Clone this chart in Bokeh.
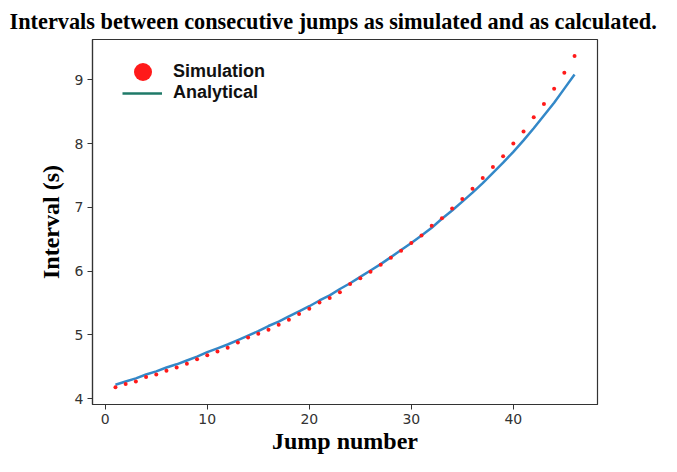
from bokeh.plotting import figure
from bokeh.models import Range1d, FixedTicker, Legend, LegendItem
from bokeh.embed import file_html
from bokeh.resources import INLINE

# ---- data ----
jump = [1, 2, 3, 4, 5, 6, 7, 8, 9, 10, 11, 12, 13, 14, 15, 16, 17, 18, 19, 20,
        21, 22, 23, 24, 25, 26, 27, 28, 29, 30, 31, 32, 33, 34, 35, 36, 37, 38,
        39, 40, 41, 42, 43, 44, 45, 46]
simulated = [4.18, 4.23, 4.27, 4.34, 4.38, 4.44, 4.49, 4.55, 4.62, 4.68, 4.74,
             4.80, 4.88, 4.96, 5.02, 5.08, 5.16, 5.24, 5.33, 5.41, 5.51, 5.58,
             5.67, 5.80, 5.89, 5.99, 6.10, 6.21, 6.32, 6.44, 6.56, 6.71, 6.83,
             6.98, 7.13, 7.29, 7.46, 7.63, 7.80, 8.00, 8.19, 8.41, 8.62, 8.86,
             9.11, 9.37]
analytical = [4.22, 4.27, 4.32, 4.38, 4.43, 4.49, 4.54, 4.60, 4.66, 4.73, 4.79,
              4.85, 4.92, 4.99, 5.06, 5.14, 5.21, 5.29, 5.37, 5.45, 5.54, 5.62,
              5.72, 5.81, 5.91, 6.01, 6.11, 6.22, 6.33, 6.44, 6.56, 6.68, 6.82,
              6.95, 7.09, 7.23, 7.38, 7.54, 7.70, 7.87, 8.05, 8.24, 8.44, 8.64,
              8.86, 9.08]
x_ticks = [0, 10, 20, 30, 40]
y_ticks = [4, 5, 6, 7, 8, 9]
title_text = "Intervals between consecutive jumps as simulated and as calculated."
x_label = "Jump number"
y_label = "Interval (s)"
sim_label = "Simulation"
ana_label = "Analytical"

p = figure(width=661, height=456, output_backend="svg", toolbar_location=None,
           x_range=Range1d(-1.25, 48.25), y_range=Range1d(3.91, 9.63),
           min_border_left=92, min_border_right=64, min_border_top=38,
           min_border_bottom=48)

p.title.text = title_text
p.title.text_font = "Liberation Serif"
p.title.text_font_style = "bold"
p.title.text_font_size = "22.3px"
p.title.align = "left"
p.title.offset = -83
p.title.text_color = "#000000"
p.title.standoff = 12

p.grid.visible = False
p.outline_line_color = "#333333"
p.outline_line_width = 1.2
p.background_fill_color = "white"
p.border_fill_color = "white"

for ax in (p.xaxis[0], p.yaxis[0]):
    ax.axis_line_color = "#333333"
    ax.axis_line_width = 1.2
    ax.major_tick_line_color = "#333333"
    ax.major_tick_out = 5
    ax.major_tick_in = 0
    ax.minor_tick_line_color = None
    ax.major_label_text_font = "DejaVu Sans"
    ax.major_label_text_font_size = "14px"
    ax.major_label_text_color = "#333333"
    ax.major_label_standoff = 4
    ax.axis_label_text_font = "Liberation Serif"
    ax.axis_label_text_font_style = "bold"
    ax.axis_label_text_font_size = "24px"
    ax.axis_label_text_color = "#000000"

p.xaxis[0].ticker = FixedTicker(ticks=x_ticks)
p.yaxis[0].ticker = FixedTicker(ticks=y_ticks)
p.xaxis[0].axis_label = x_label
p.yaxis[0].axis_label = y_label
p.xaxis[0].axis_label_standoff = 1
p.yaxis[0].axis_label_standoff = 8

line_r = p.line(jump, analytical, line_color="#3388c8", line_width=2.5)
dots_r = p.scatter(jump, simulated, size=4, fill_color="#ff1a1a",
                   line_color=None)

# legend-only renderer (legend line colour differs from plotted curve); hidden
legend_line = p.line(jump, analytical, line_color="#1f7a68", line_width=2.5,
                     visible=False)

common = dict(padding=0, margin=0, spacing=0, border_line_color=None,
              background_fill_alpha=0, inactive_fill_alpha=0,
              label_text_font="Liberation Sans", label_text_font_style="bold",
              label_text_font_size="18px", label_text_color="#111111")
leg1 = Legend(items=[LegendItem(label=sim_label, renderers=[dots_r])],
              location=(28, 310), glyph_width=45, glyph_height=45,
              label_standoff=8, **common)
leg2 = Legend(items=[LegendItem(label=ana_label, renderers=[legend_line])],
              location=(30, 301), glyph_width=40, glyph_height=20,
              label_standoff=11, **common)
leg1.click_policy = "none"
leg2.click_policy = "none"
p.add_layout(leg1, "center")
p.add_layout(leg2, "center")

open("out.html", "w").write(file_html(p, INLINE))
